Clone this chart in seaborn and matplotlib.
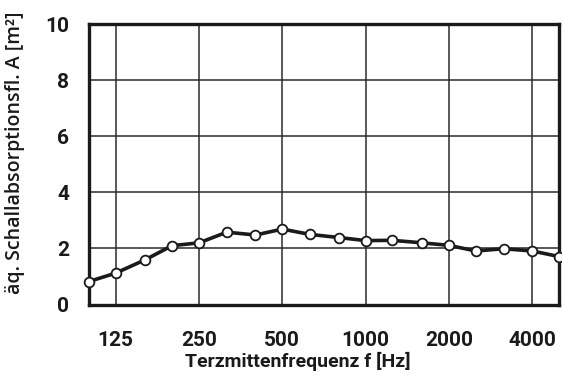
import matplotlib
matplotlib.use("Agg")
import matplotlib.pyplot as plt
import seaborn as sns
import pandas as pd

# third-octave centre frequencies and absorption area
freqs = [100, 125, 160, 200, 250, 315, 400, 500, 630, 800,
         1000, 1250, 1600, 2000, 2500, 3150, 4000, 5000]
area = [0.82, 1.12, 1.6, 2.1, 2.2, 2.58, 2.48, 2.69, 2.5, 2.39,
        2.28, 2.29, 2.2, 2.11, 1.91, 1.99, 1.91, 1.71]
xticks = [125, 250, 500, 1000, 2000, 4000]
yticks = [0, 2, 4, 6, 8, 10]

sns.set_style("white")
plt.rcParams["font.family"] = ["Roboto", "DejaVu Sans"]

df = pd.DataFrame({"f": freqs, "A": area})

fig = plt.figure(figsize=(5.62, 3.76), dpi=100)
ax = fig.add_axes([0.158, 0.19, 0.837, 0.746])

ax.set_xscale("log")
sns.lineplot(data=df, x="f", y="A", ax=ax, color="#1a1a1a", linewidth=2.6,
             marker="o", markersize=7, markerfacecolor="white",
             markeredgecolor="#1a1a1a", markeredgewidth=1.3, zorder=5,
             clip_on=False)

ax.set_xlim(100, 5000)
ax.set_ylim(0, 10)
ax.set_xticks(xticks)
ax.set_xticklabels([str(t) for t in xticks])
ax.minorticks_off()
ax.set_yticks(yticks)
ax.grid(True, color="#2a2a2a", linewidth=1.1)
ax.set_axisbelow(True)

for s in ax.spines.values():
    s.set_visible(True)
    s.set_color("#1a1a1a")
    s.set_linewidth(2.4)

ax.tick_params(axis="both", length=0, labelsize=15, colors="#1a1a1a")
ax.tick_params(axis="x", pad=19)
ax.tick_params(axis="y", pad=14)
for lab in ax.get_xticklabels() + ax.get_yticklabels():
    lab.set_fontweight("bold")

ax.set_xlabel("Terzmittenfrequenz f [Hz]", fontsize=14, fontweight="bold",
              color="#1a1a1a")
ax.xaxis.set_label_coords(0.445, -0.17)
ax.set_ylabel("äq. Schallabsorptionsfl. A [m²]", fontsize=14,
              fontweight="semibold", color="#1a1a1a",
              family=["Open Sans", "DejaVu Sans"])
ax.yaxis.set_label_coords(-0.135, 0.543)

fig.savefig("out.png", dpi=100, facecolor="white")
